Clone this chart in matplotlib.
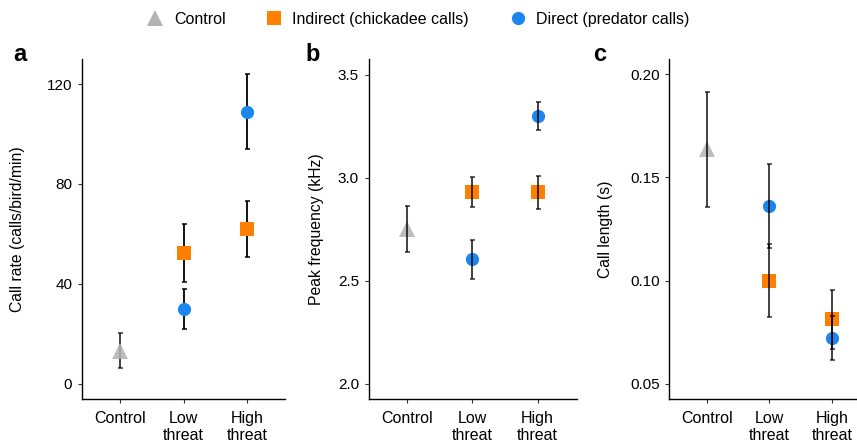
import matplotlib
matplotlib.use("Agg")
import matplotlib.pyplot as plt
from matplotlib.lines import Line2D

plt.rcParams["font.family"] = ["Liberation Sans", "DejaVu Sans"]

groups = ["Control", "Low\nthreat", "High\nthreat"]

# call rate (calls/bird/min)
rate_control = [13.3]
rate_control_err = [7.0]
rate_indirect = [52.5, 61.8]
rate_indirect_err = [11.6, 11.2]
rate_direct = [30.0, 109.0]
rate_direct_err = [8.1, 15.0]

# peak frequency (kHz)
freq_control = [2.75]
freq_control_err = [0.112]
freq_indirect = [2.93, 2.93]
freq_indirect_err = [0.072, 0.08]
freq_direct = [2.605, 3.30]
freq_direct_err = [0.095, 0.068]

# call length (s)
len_control = [0.1635]
len_control_err = [0.028]
len_indirect = [0.100, 0.0813]
len_indirect_err = [0.0175, 0.0142]
len_direct = [0.136, 0.0722]
len_direct_err = [0.0204, 0.0105]

gray = "#b3b3b3"
orange = "#ff7f00"
blue = "#1c86ee"

fig = plt.figure(figsize=(8.57, 4.45), dpi=100)

panels = [
    ("a", [0.0957, 0.1034, 0.2369, 0.764], (-0.6, 2.6), (-6, 130), [0, 40, 80, 120],
     ["0", "40", "80", "120"], "Call rate (calls/bird/min)", -0.28,
     (rate_control, rate_control_err, rate_indirect, rate_indirect_err, rate_direct, rate_direct_err), False),
    ("b", [0.4302, 0.1034, 0.2427, 0.764], (-0.59, 2.6), (1.926, 3.576), [2.0, 2.5, 3.0, 3.5],
     ["2.0", "2.5", "3.0", "3.5"], "Peak frequency (kHz)", -0.215,
     (freq_control, freq_control_err, freq_indirect, freq_indirect_err, freq_direct, freq_direct_err), True),
    ("c", [0.781, 0.1034, 0.219, 0.764], (-0.6, 2.4), (0.0427, 0.2073), [0.05, 0.10, 0.15, 0.20],
     ["0.05", "0.10", "0.15", "0.20"], "Call length (s)", -0.3,
     (len_control, len_control_err, len_indirect, len_indirect_err, len_direct, len_direct_err), True),
]

label_x = {"a": 0.015, "b": 0.357, "c": 0.692}

for name, rect, xlim, ylim, yticks, ytl, ylabel, lx, data, bars_on_top in panels:
    ax = fig.add_axes(rect)
    c_val, c_err, i_val, i_err, d_val, d_err = data
    ez = 4 if bars_on_top else 1
    ecol = (0, 0, 0, 0.8) if bars_on_top else "black"

    ax.errorbar([0], c_val, yerr=c_err, fmt="none", ecolor=(0, 0, 0, 0.8),
                elinewidth=1.3, capsize=1.8, capthick=1.1, zorder=ez)
    ax.errorbar([1, 2], i_val, yerr=i_err, fmt="none", ecolor=ecol,
                elinewidth=1.3, capsize=1.8, capthick=1.1, zorder=ez)
    ax.errorbar([1, 2], d_val, yerr=d_err, fmt="none", ecolor=ecol,
                elinewidth=1.3, capsize=1.8, capthick=1.1, zorder=ez)

    ax.plot([0], c_val, "^", color=gray, alpha=0.85, markersize=11, markeredgewidth=0, zorder=2)
    ax.plot([1, 2], i_val, "s", color=orange, markersize=9.5, markeredgewidth=0, zorder=3)
    ax.plot([1, 2], d_val, "o", color=blue, markersize=9.5, markeredgewidth=0, zorder=3)

    ax.set_xlim(*xlim)
    ax.set_ylim(*ylim)
    ax.set_xticks([0, 1, 2])
    ax.set_xticklabels(groups, fontsize=11.5, linespacing=1.1)
    ax.set_yticks(yticks)
    ax.set_yticklabels(ytl, fontsize=11)
    ax.tick_params(axis="both", length=3, width=0.8, color="#333333")
    ax.tick_params(axis="x", pad=6)
    ax.tick_params(axis="y", pad=4)
    for s in ["top", "right"]:
        ax.spines[s].set_visible(False)
    for s in ["left", "bottom"]:
        ax.spines[s].set_linewidth(1.0)
    ax.set_ylabel(ylabel, fontsize=11.3)
    ax.yaxis.set_label_coords(lx, 0.5)

    fig.text(label_x[name], 0.863, name, fontsize=17, fontweight="bold", va="baseline")

handles = [
    Line2D([], [], marker="^", color=gray, linestyle="none", markersize=11, markeredgewidth=0),
    Line2D([], [], marker="s", color=orange, linestyle="none", markersize=9.5, markeredgewidth=0),
    Line2D([], [], marker="o", color=blue, linestyle="none", markersize=9.5, markeredgewidth=0),
]
fig.legend(handles, ["Control", "Indirect (chickadee calls)", "Direct (predator calls)"],
           loc="center", bbox_to_anchor=(0.4874, 0.956), ncol=3, frameon=False,
           fontsize=11.5, handletextpad=0.55, columnspacing=2.45, handlelength=1.2)

fig.savefig("out.png", dpi=100)
